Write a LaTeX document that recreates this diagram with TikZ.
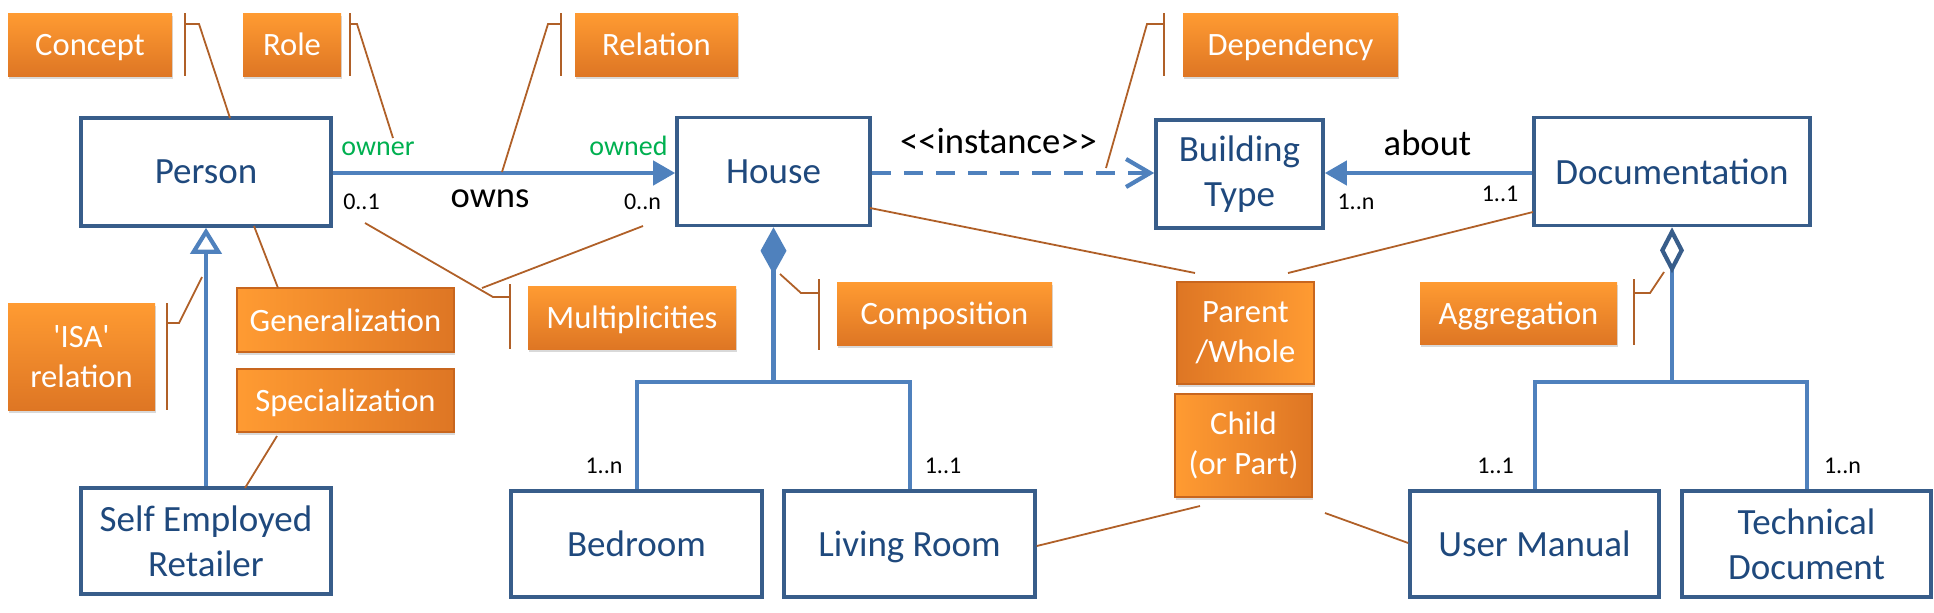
\documentclass[tikz,border=0pt]{standalone}
\usepackage{fontspec}
\setmainfont{Carlito}
\usetikzlibrary{arrows.meta,shadows}
\definecolor{boxblue}{RGB}{56,93,138}
\definecolor{txtblue}{RGB}{31,73,125}
\definecolor{conblue}{RGB}{79,129,189}
\definecolor{umlgreen}{RGB}{0,176,80}
\definecolor{callout}{RGB}{176,96,40}
\definecolor{orlight}{RGB}{255,155,50}
\definecolor{ordark}{RGB}{222,118,36}
\definecolor{orborder}{RGB}{200,102,30}
\newcommand\nodesc[1]{\raisebox{0pt}[\height][0pt]{#1}}
\begin{document}
\begin{tikzpicture}[x=0.5pt,y=-0.5pt,
 umlbox/.style={draw=boxblue, line width=1.8pt, fill=white, text=txtblue,
   font=\fontsize{18.5}{22.5}\selectfont, align=center, inner sep=0pt, minimum height=54pt},
 obox/.style={text=white, font=\fontsize{16.3}{20}\selectfont, align=center, inner sep=0pt,
   minimum height=31.5pt, drop shadow={shadow xshift=0.6pt, shadow yshift=-1.6pt, opacity=0.3}},
 ov/.style={obox, top color=orlight, bottom color=ordark},
 oh/.style={obox, left color=orlight, right color=ordark, draw=orborder, line width=0.8pt},
 ohr/.style={obox, left color=ordark, right color=orlight, draw=orborder, line width=0.8pt},
 assoc/.style={draw=conblue, line width=2.1pt},
 note/.style={draw=callout, line width=0.9pt},
 mult/.style={font=\fontsize{12}{14}\selectfont, text=black, inner sep=0pt, anchor=base},
 rolelbl/.style={font=\fontsize{14}{16}\selectfont, text=umlgreen, inner sep=0pt, anchor=base},
 verb/.style={font=\fontsize{18.3}{22}\selectfont, text=black, inner sep=0pt, anchor=base},
]
\useasboundingbox (0,0) rectangle (1934,612);

% UML classes
\node[umlbox, minimum width=125pt] (person) at (206,172) {Person};
\node[umlbox, minimum width=96.5pt] (house) at (773.5,171.5) {House};
\node[umlbox, minimum width=83.5pt] (bt) at (1239.5,174) {Building\\Type};
\node[umlbox, minimum width=138pt] (doc) at (1672,171.5) {Documentation};
\node[umlbox, minimum width=125pt, minimum height=53pt] (ser) at (206,541) {Self Employed\\Retailer};
\node[umlbox, minimum width=125.5pt, minimum height=53pt] (bed) at (636.5,544) {Bedroom};
\node[umlbox, minimum width=125.5pt, minimum height=53pt] (liv) at (909.5,544) {\nodesc{Living Room}};
\node[umlbox, minimum width=124.5pt, minimum height=53pt] (um) at (1534.5,544) {User Manual};
\node[umlbox, minimum width=124.5pt, minimum height=53pt] (td) at (1806.5,544) {Technical\\Document};

% orange notes
\node[ov, minimum width=82pt] (concept) at (90,44.5) {\nodesc{Concept}};
\node[ov, minimum width=49pt] (rolebox) at (292,44.5) {Role};
\node[ov, minimum width=81.5pt] (relation) at (656.5,44.5) {Relation};
\node[ov, minimum width=107.5pt] (dependency) at (1290.5,44.5) {\nodesc{Dependency}};
\node[ov, minimum width=73.5pt, minimum height=53.5pt] (isa) at (81.5,356.5) {\textquotesingle ISA\textquotesingle\\relation};
\node[oh, minimum width=108.5pt, minimum height=32pt] (gen) at (345.5,320) {Generalization};
\node[oh, minimum width=108.5pt] (spec) at (345.5,400.5) {\nodesc{Specialization}};
\node[ov, minimum width=104pt] (multi) at (632,317.5) {\nodesc{Multiplicities}};
\node[ov, minimum width=107.5pt] (compo) at (944.5,313.5) {\nodesc{Composition}};
\node[ohr, minimum width=68.5pt, minimum height=51pt] (parent) at (1245.5,333) {Parent\\/Whole};
\node[oh, minimum width=68.5pt, minimum height=51.5pt] (child) at (1243.5,445.5) {Child\\(or Part)};
\node[ov, minimum width=98.5pt, minimum height=31pt] (aggr) at (1518.5,313) {\nodesc{Aggregation}};

% UML connectors
\draw[assoc, -{Triangle[length=11pt,width=12pt]}] (person.east |- 0,173) -- (house.west |- 0,173);
\draw[assoc, dash pattern=on 9.5pt off 6.5pt, -{Straight Barb[length=12pt,width=14pt]}] (house.east |- 0,173) -- (bt.west |- 0,173);
\draw[assoc, -{Triangle[length=11pt,width=12pt]}] (doc.west |- 0,173) -- (bt.east |- 0,173);
\draw[assoc, -{Triangle[open,length=13pt,width=15.5pt]}] (ser.north) -- (person.south);

\coordinate (ch) at (773.5,382);
\draw[assoc, {Diamond[length=23.5pt,width=13pt]}-] (house.south) -- (ch);
\draw[assoc, line join=miter] (bed.north -| 637,0) |- (ch) -| (liv.north -| 910,0);

\coordinate (ah) at (1672,382);
\draw[assoc, {Diamond[open,length=23pt,width=12pt,color=boxblue]}-] (doc.south) -- (ah);
\draw[assoc, line join=miter] (um.north -| 1535,0) |- (ah) -| (td.north -| 1807,0);

% labels
\node[rolelbl] (lowner) at (378,155) {owner};
\node[rolelbl] (lowned) at (628.5,155) {owned};
\node[mult] (m01) at (361.5,209) {0..1};
\node[verb] (lowns) at (490,207) {owns};
\node[mult] (m0n) at (642.5,209) {0..n};
\node[verb] (linst) at (998.5,153) {<{}<instance>{}>};
\node[verb] (labout) at (1427.5,155) {about};
\node[mult] (mbt) at (1356,209) {1..n};
\node[mult] (mdoc) at (1500,201) {1..1};
\node[mult] (mbed) at (604,473) {1..n};
\node[mult] (mliv) at (943,473) {1..1};
\node[mult] (mum) at (1495.5,473) {1..1};
\node[mult] (mtd) at (1842.5,473) {1..n};

% callouts
\coordinate (c1) at (230,118);
\draw[note] (185,13) -- (185,76);
\draw[note] (185,24) -- (199,24) -- (c1);
\coordinate (c2) at (393,138);
\draw[note] (350,13) -- (350,76);
\draw[note] (350,24) -- (357,24) -- (c2);
\coordinate (c3) at (502,172);
\draw[note] (561,13) -- (561,76);
\draw[note] (561,24) -- (548,24) -- (c3);
\coordinate (c4) at (1106,168);
\draw[note] (1164,13) -- (1164,76);
\draw[note] (1164,24) -- (1147,24) -- (c4);
\coordinate (c5) at (202,277);
\draw[note] (167,303) -- (167,410);
\draw[note] (167,323) -- (179,323) -- (c5);
\coordinate (c6a) at (365,223);
\coordinate (c6b) at (643,226);
\draw[note] (510,284) -- (510,349);
\draw[note] (510,297) -- (493,297) -- (c6a);
\draw[note] (482,288) -- (c6b);
\coordinate (c7) at (780,274);
\draw[note] (819,279) -- (819,350);
\draw[note] (819,293) -- (801,293) -- (c7);
\coordinate (c8) at (1664,272);
\draw[note] (1634,279) -- (1634,345);
\draw[note] (1634,293) -- (1650,293) -- (c8);

\coordinate (g1) at (254,226);
\coordinate (g2) at (278,288);
\draw[note] (g1) -- (g2);
\coordinate (s1) at (277,436);
\coordinate (s2) at (245,488);
\draw[note] (s1) -- (s2);
\coordinate (p1) at (870,208);
\coordinate (p2) at (1195,273);
\draw[note] (p1) -- (p2);
\coordinate (p3) at (1533,212);
\coordinate (p4) at (1288,273);
\draw[note] (p3) -- (p4);
\coordinate (k1) at (1200,506);
\draw[note] (k1) -- (liv.east |- 0,546);
\coordinate (k2) at (1325,513);
\draw[note] (k2) -- (um.west |- 0,543);
\end{tikzpicture}
\end{document}
